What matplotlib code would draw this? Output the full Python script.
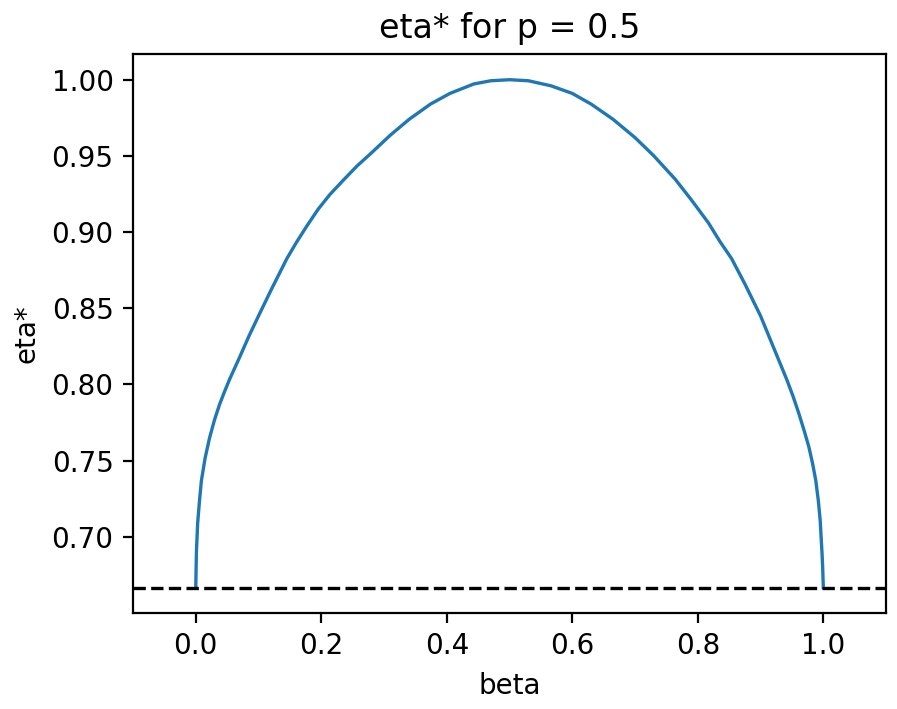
# eta* in funzione di beta, p = 0.5

import matplotlib.pyplot as plt

p = 0.5
eta_min = 2 / 3  # linea tratteggiata

beta = [0.0, 0.001, 0.003, 0.006, 0.009, 0.015, 0.022, 0.03, 0.038, 0.046,
        0.054, 0.07, 0.085, 0.1, 0.12, 0.145, 0.16, 0.177, 0.195, 0.214,
        0.235, 0.257, 0.28, 0.31, 0.34, 0.374, 0.405, 0.443, 0.47, 0.5,
        0.53, 0.566, 0.60, 0.63, 0.665, 0.70, 0.73, 0.764, 0.79, 0.817,
        0.835, 0.854, 0.875, 0.9, 0.92, 0.942, 0.952, 0.961, 0.97, 0.977,
        0.983, 0.988, 0.992, 0.995, 0.998, 0.999, 1.0]
eta = [0.6667, 0.69, 0.709, 0.724, 0.737, 0.752, 0.765, 0.777, 0.787, 0.7955,
       0.8035, 0.818, 0.832, 0.845, 0.862, 0.8825, 0.893, 0.904, 0.915, 0.9248,
       0.934, 0.9434, 0.952, 0.9636, 0.974, 0.984, 0.991, 0.9972, 0.9993, 1.0,
       0.9993, 0.996, 0.991, 0.984, 0.974, 0.962, 0.950, 0.9347, 0.921, 0.906,
       0.894, 0.8825, 0.866, 0.845, 0.825, 0.803, 0.792, 0.781, 0.769, 0.759,
       0.748, 0.737, 0.724, 0.711, 0.689, 0.68, 0.6667]

fig = plt.figure(figsize=(8.97 / 2, 7.09 / 2), dpi=200)
ax = fig.add_axes([0.1483, 0.1354, 0.8395, 0.788])

ax.plot(beta, eta, linewidth=1.2)
ax.axhline(y=eta_min, color="k", linestyle="--", linewidth=1.2)
ax.set_xlim(-0.1, 1.1)
ax.set_xlabel("beta")
ax.set_ylabel("eta*")
ax.set_title(f"eta* for p = {p}")

fig.savefig("out.png", dpi=200)
